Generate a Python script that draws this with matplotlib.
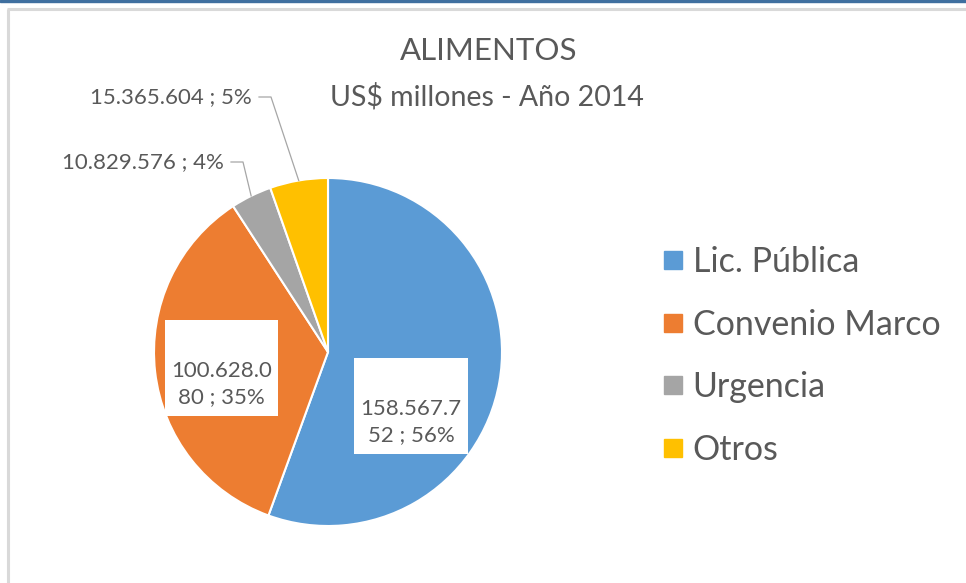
import matplotlib

matplotlib.use("Agg")

import matplotlib.pyplot as plt
import numpy as np
from matplotlib.lines import Line2D
from matplotlib.patches import Rectangle

plt.rcParams["font.family"] = ["Lato", "DejaVu Sans"]

# data
categories = ["Lic. Pública", "Convenio Marco", "Urgencia", "Otros"]
values = [158567752, 100628080, 10829576, 15365604]
label_texts = [
    "158.567.7\n52 ; 56%",
    "100.628.0\n80 ; 35%",
    "10.829.576 ; 4%",
    "15.365.604 ; 5%",
]
colors = ["#5B9BD5", "#ED7D31", "#A5A5A5", "#FFC000"]

title = "ALIMENTOS"
subtitle = "US$ millones - Año 2014"

TEXT = "#595959"
W, H = 966, 583

fig = plt.figure(figsize=(W / 100, H / 100), dpi=100)
ax = fig.add_axes([0, 0, 1, 1])

# pie in pixel-like coordinates (y up)
cx, cy, r = 328, H - 352, 174
wedges, _ = ax.pie(
    values,
    colors=colors,
    startangle=90,
    counterclock=False,
    center=(cx, cy),
    radius=r,
    wedgeprops=dict(edgecolor="white", linewidth=1.5),
)
ax.set_xlim(0, W)
ax.set_ylim(0, H)
ax.set_aspect("auto")
ax.axis("off")

# frame decoration
ax.add_patch(Rectangle((0, H - 2), W, 2, color="#3F6F9F", clip_on=False))
ax.plot([7, W], [H - 9, H - 9], color="#D9D9D9", lw=2.2, solid_capstyle="butt")
ax.plot([8, 8], [0, H - 9], color="#D9D9D9", lw=2.2, solid_capstyle="butt")

ax.text(489, H - 51, title, ha="center", va="center", fontsize=22.5, color=TEXT)
ax.text(487, H - 97, subtitle, ha="center", va="center", fontsize=20.5,
        color=TEXT)

# inside labels with white boxes
inside_boxes = [(354, 358, 114, 96), (165, 320, 113, 96)]
for i, (bx, by, bw, bh) in enumerate(inside_boxes):
    ax.add_patch(Rectangle((bx, H - by - bh), bw, bh, facecolor="white",
                           edgecolor="none", zorder=3))
    ax.text(bx + bw / 2, H - (by + bh / 2 + 16), label_texts[i], ha="center",
            va="center", fontsize=16, color=TEXT, linespacing=1.4, zorder=4)

# outside labels with leader lines
outside_pos = {2: (224, 162), 3: (252, 97)}
for i, (lx, ly) in outside_pos.items():
    w = wedges[i]
    mid = np.deg2rad((w.theta1 + w.theta2) / 2)
    ex = cx + r * np.cos(mid)
    ey = cy + r * np.sin(mid)
    ax.text(lx, H - ly, label_texts[i], ha="right", va="center",
            fontsize=16, color=TEXT)
    ax.plot([lx + 7, lx + 19, ex], [H - ly, H - ly, ey], color="#A6A6A6",
            lw=0.9, zorder=2)

handles = [
    Line2D([], [], marker="s", linestyle="", markersize=12.5, color=c)
    for c in colors
]
fig.legend(
    handles,
    categories,
    loc="center left",
    bbox_to_anchor=(633 / W, 1 - 356 / H),
    frameon=False,
    fontsize=24.5,
    labelcolor=TEXT,
    handlelength=0.55,
    handletextpad=0.3,
    labelspacing=0.9,
)

fig.savefig("out.png", dpi=100)
